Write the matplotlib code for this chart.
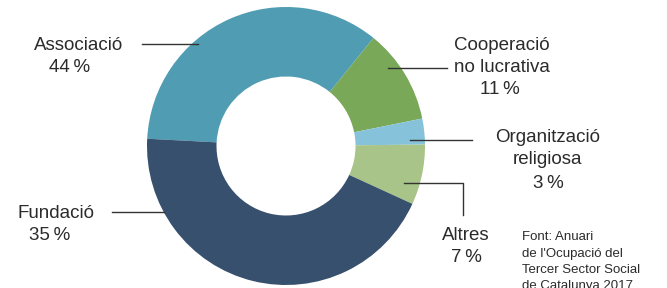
import matplotlib
matplotlib.use("Agg")
import matplotlib.pyplot as plt

# Categories in clockwise drawing order, starting at the left edge of the ring
categories = ["Associació", "Cooperació\nno lucrativa", "Organització\nreligiosa", "Altres", "Fundació"]
# Arc sizes as drawn in the picture (share of the ring, %)
arc_shares = [35, 11, 3, 7, 44]
# Percentages printed beside each label
printed_pct = [44, 11, 3, 7, 35]
colors = ["#4f9cb3", "#78a858", "#86c2da", "#a9c488", "#36506e"]
source_lines = ["Font: Anuari", "de l'Ocupació del", "Tercer Sector Social", "de Catalunya 2017"]

W, H = 667, 288
CX, CY, R = 286, 146, 139

plt.rcParams['font.family'] = ['Liberation Sans', 'DejaVu Sans']

fig = plt.figure(figsize=(W / 100, H / 100), dpi=100)
fig.patch.set_facecolor("white")
ax = fig.add_axes([(CX - R) / W, (H - CY - R) / H, 2 * R / W, 2 * R / H])
ax.pie(arc_shares, colors=colors, startangle=177, counterclock=False,
       radius=1.0, wedgeprops=dict(width=0.5, linewidth=0))
ax.set_xlim(-1, 1)
ax.set_ylim(-1, 1)
ax.set_aspect("equal")
ax.axis("off")


def fx(px):
    return px / W


def fy(py):
    return 1 - py / H


txt_color = "#2b2b2b"
line_color = "#333333"
fs = 13.5


def line(xs, ys):
    fig.add_artist(plt.Line2D([fx(x) for x in xs], [fy(y) for y in ys],
                              color=line_color, lw=1.0))


def label(x, y, s, size=fs, ha="center"):
    fig.text(fx(x), fy(y), s, ha=ha, va="center", fontsize=size, color=txt_color)


def pct(v):
    return f"{v}\u2009%"

# Associació
label(79, 45, categories[0])
label(70, 67, pct(printed_pct[0]))
line([142, 198], [44, 44])

# Cooperació no lucrativa
label(502, 45, "Cooperació")
label(502, 68, "no lucrativa")
label(500, 90, pct(printed_pct[1]))
line([388, 447], [68, 68])

# Organització religiosa
label(548, 137, "Organització")
label(548, 160, "religiosa")
label(548, 183, pct(printed_pct[2]))
line([410, 472], [140, 140])

# Altres
label(466, 236, categories[3])
label(466, 258, pct(printed_pct[3]))
line([404, 463, 463], [183, 183, 215])

# Fundació
label(56, 213, categories[4])
label(50, 236, pct(printed_pct[4]))
line([112, 164], [212, 212])

# Source (last line is cut by the bottom edge, as in the reference)
for i, s in enumerate(source_lines):
    label(522, 237 + i * 16.5, s, size=9.5, ha="left")

fig.savefig("out.png", dpi=100, facecolor="white")
